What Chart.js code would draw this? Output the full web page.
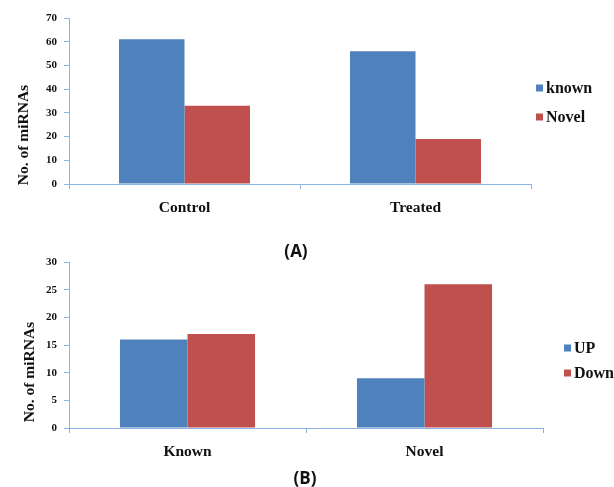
<!DOCTYPE html>
<html>
<head>
<meta charset="utf-8">
<script src="https://cdn.jsdelivr.net/npm/chart.js@4/dist/chart.umd.min.js"></script>
<style>
  html, body { margin: 0; padding: 0; background: #fff; }
  #wrap { position: relative; width: 614px; height: 487px; overflow: hidden; }
  canvas { position: absolute; left: 0; }
  .panel { position: absolute; font: bold 17px "Open Sans", sans-serif; color: #111; transform: translate(-50%, -50%); }
</style>
</head>
<body>
<div id="wrap">
  <canvas id="chartA" width="614" height="232" style="top:0"></canvas>
  <canvas id="chartB" width="614" height="247" style="top:240px"></canvas>
  <div class="panel" style="left:296px; top:250px">(A)</div>
  <div class="panel" style="left:305px; top:477px">(B)</div>
</div>
<script>
// panel A
const groupsA = ['Control', 'Treated'];
const knownA = [61, 56];
const novelA = [33, 19];

// panel B
const groupsB = ['Known', 'Novel'];
const upB = [16, 9];
const downB = [17, 26];

const blue = '#4F81BD';
const red = '#C0504D';
const axisColor = '#8DB3E2';
const serif = '"Liberation Serif", "Times New Roman", serif';

// draws the rotated y title and a simple legend at fixed spots
const decor = {
  id: 'decor',
  afterDraw(chart, args, opts) {
    const ctx = chart.ctx;
    ctx.save();
    ctx.fillStyle = '#111';
    ctx.font = 'bold 15.5px ' + serif;
    ctx.textAlign = 'center';
    ctx.textBaseline = 'middle';
    ctx.translate(opts.titleX, opts.titleY);
    ctx.rotate(-Math.PI / 2);
    ctx.fillText('No. of miRNAs', 0, 0);
    ctx.restore();

    ctx.save();
    ctx.font = 'bold 16px ' + serif;
    ctx.textBaseline = 'middle';
    chart.data.datasets.forEach((ds, i) => {
      const y = opts.legY + i * opts.legDy;
      ctx.fillStyle = ds.backgroundColor;
      ctx.fillRect(opts.legX, y - 3.5, 7, 7);
      ctx.fillStyle = '#111';
      ctx.fillText(ds.label, opts.legX + 10, y + 1);
    });
    ctx.restore();
  }
};

function makeOptions(yMax, step, right, top, xHeight, catPct, decorOpts) {
  return {
    responsive: false,
    animation: false,
    layout: { padding: { top: top, right: right, left: 0, bottom: 0 } },
    plugins: {
      legend: { display: false },
      tooltip: { enabled: false },
      decor: decorOpts
    },
    datasets: {
      bar: { categoryPercentage: catPct, barPercentage: 1, borderWidth: 0 }
    },
    scales: {
      x: {
        afterFit: (scale) => { scale.height = xHeight; },
        grid: { drawOnChartArea: false, tickLength: 5, color: axisColor, offset: true },
        border: { color: axisColor, width: 1 },
        ticks: { color: '#111', font: { family: serif, size: 15.5, weight: 'bold' }, padding: 10 }
      },
      y: {
        min: 0,
        max: yMax,
        afterFit: (scale) => { scale.width = 69; },
        grid: { drawOnChartArea: false, tickLength: 5, color: axisColor },
        border: { color: axisColor, width: 1 },
        ticks: { stepSize: step, color: '#111', font: { family: serif, size: 11, weight: 'bold' }, padding: 7 }
      }
    }
  };
}

new Chart(document.getElementById('chartA'), {
  type: 'bar',
  data: {
    labels: groupsA,
    datasets: [
      { label: 'known', data: knownA, backgroundColor: blue },
      { label: 'Novel', data: novelA, backgroundColor: red }
    ]
  },
  options: makeOptions(70, 10, 83, 18, 48, 0.567,
    { titleX: 24, titleY: 135, legX: 536, legY: 88, legDy: 29 }),
  plugins: [decor]
});

new Chart(document.getElementById('chartB'), {
  type: 'bar',
  data: {
    labels: groupsB,
    datasets: [
      { label: 'UP', data: upB, backgroundColor: blue },
      { label: 'Down', data: downB, backgroundColor: red }
    ]
  },
  options: makeOptions(30, 5, 71, 22, 59, 0.57,
    { titleX: 30, titleY: 132, legX: 564, legY: 108, legDy: 25 }),
  plugins: [decor]
});
</script>
</body>
</html>
